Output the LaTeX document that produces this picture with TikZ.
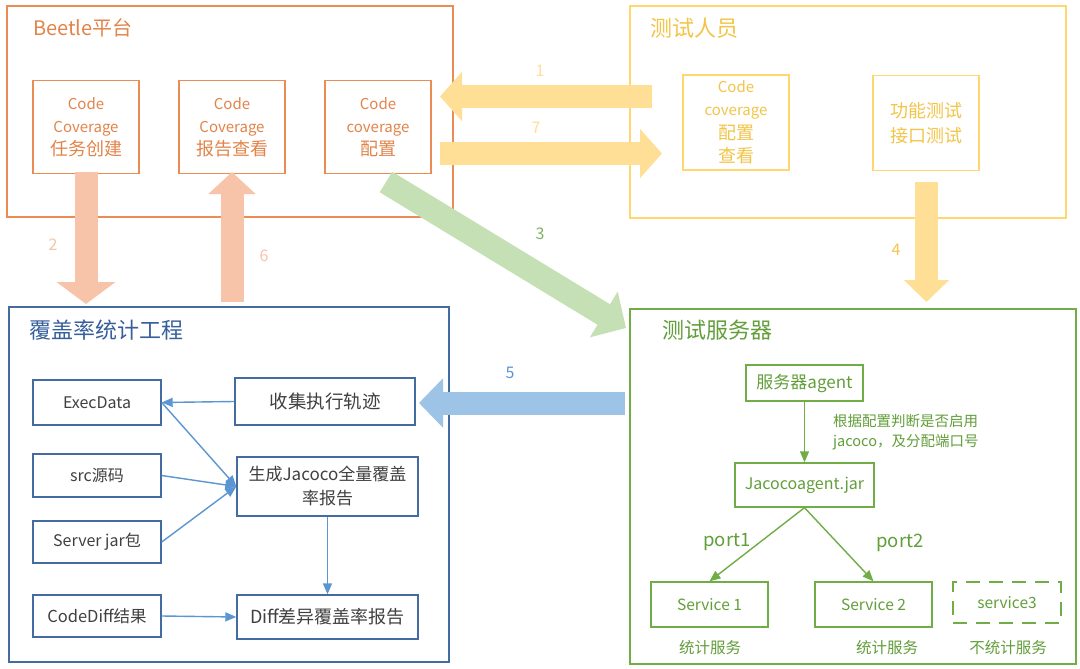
\documentclass[tikz,border=0pt]{standalone}
\usepackage{fontspec}
\setmainfont{Noto Sans CJK SC}
\usetikzlibrary{arrows.meta}
\definecolor{cOr}{RGB}{234,140,84}
\definecolor{cOrT}{RGB}{226,132,74}
\definecolor{cSal}{RGB}{247,196,170}
\definecolor{cYe}{RGB}{255,214,112}
\definecolor{cYeA}{RGB}{255,222,150}
\definecolor{cYeT}{RGB}{242,196,72}
\definecolor{cGr}{RGB}{112,173,71}
\definecolor{cGrA}{RGB}{197,224,180}
\definecolor{cGrT}{RGB}{98,158,58}
\definecolor{cBl}{RGB}{68,108,160}
\definecolor{cBlT}{RGB}{55,95,155}
\definecolor{cBlL}{RGB}{90,150,210}
\definecolor{cBlA}{RGB}{157,195,230}
\newcommand{\zhbig}[1]{{\fontsize{18}{23}\selectfont #1}}
\tikzset{
  outerbox/.style={draw, line width=2.6pt, inner sep=0pt},
  innerbox/.style={draw, line width=1.4pt, inner sep=0pt, align=center},
  ttl/.style={anchor=west, inner sep=0pt, font=\fontsize{22}{26}\selectfont},
  bodytxt/.style={font=\fontsize{15}{23}\selectfont},
  numlbl/.style={inner sep=0pt, font=\fontsize{16}{18}\selectfont},
  bigarrow/.style={line width=23pt, -{Triangle[length=22pt,width=48pt]}},
  thinblue/.style={draw=cBlL, line width=1.4pt, -{Triangle[length=11pt,width=9pt]}},
  thingreen/.style={draw=cGr, line width=1.4pt, -{Triangle[length=11pt,width=9pt]}},
}
\begin{document}
\begin{tikzpicture}[x=1pt,y=-1pt]
\useasboundingbox[fill=white] (0,0) rectangle (1080,669);

% ---------- Beetle platform ----------
\node[outerbox, draw=cOr, minimum width=446pt, minimum height=211pt] (beetle) at (230,111.5) {};
\node[ttl, text=cOrT, font=\fontsize{20}{24}\selectfont] (beetleT) at (33,28) {Beetle平台};
\begin{scope}[every node/.style={innerbox, draw=cOr, text=cOrT, bodytxt, minimum width=106pt, minimum height=93pt}]
\node (b1) at (86,127) {Code\\Coverage\\\zhbig{任务创建}};
\node (b2) at (232,127) {Code\\Coverage\\\zhbig{报告查看}};
\node (b3) at (378,127) {Code\\coverage\\\zhbig{配置}};
\end{scope}

% ---------- Testers ----------
\node[outerbox, draw=cYe, minimum width=436pt, minimum height=212pt] (tester) at (848,112) {};
\node[ttl, text=cYeT] (testerT) at (650,28) {测试人员};
\begin{scope}[every node/.style={innerbox, draw=cYe, text=cYeT, minimum width=106pt, minimum height=95pt}]
\node[font=\fontsize{15}{23.5}\selectfont] (t1) at (736,122.5) {Code\\coverage\\\zhbig{配置}\\\zhbig{查看}};
\node[font=\fontsize{18}{25}\selectfont] (t2) at (926,123) {功能测试\\接口测试};
\end{scope}

% ---------- Coverage project ----------
\node[outerbox, draw=cBl, minimum width=440pt, minimum height=355pt] (cov) at (229,484.5) {};
\node[ttl, text=cBlT] (covT) at (29,330) {覆盖率统计工程};
\begin{scope}[every node/.style={innerbox, draw=cBl, text=black!75, font=\fontsize{16}{25}\selectfont}]
\node[minimum width=128pt, minimum height=45pt] (exec) at (97,402.5) {ExecData};
\node[minimum width=128pt, minimum height=43pt] (src) at (97,475.5) {src源码};
\node[minimum width=128pt, minimum height=42pt] (jar) at (97,542) {Server jar包};
\node[minimum width=128pt, minimum height=42pt, font=\fontsize{16.5}{25}\selectfont] (cdiff) at (97,616) {CodeDiff结果};
\node[minimum width=180pt, minimum height=47pt, font=\fontsize{18.5}{25}\selectfont] (collect) at (325,401.5) {收集执行轨迹};
\node[minimum width=181pt, minimum height=59pt, font=\fontsize{17}{24}\selectfont] (gen) at (327.5,486.5) {生成Jacoco全量覆盖\\率报告};
\node[minimum width=181pt, minimum height=44pt, font=\fontsize{18}{25}\selectfont] (diff) at (327.5,617) {Diff差异覆盖率报告};
\end{scope}
\draw[thinblue] (collect.west) -- (exec.east);
\draw[thinblue] (exec.east) -- (gen.west);
\draw[thinblue] (src.east) -- (gen.west);
\draw[thinblue] (jar.east) -- (gen.west);
\draw[thinblue] (gen.south) -- (diff.north);
\draw[thinblue] (cdiff.east) -- (diff.west);

% ---------- Test server ----------
\node[outerbox, draw=cGr, minimum width=446pt, minimum height=355pt] (srv) at (853,486.5) {};
\node[ttl, text=cGrT] (srvT) at (662,330) {测试服务器};
\begin{scope}[every node/.style={innerbox, draw=cGr, text=cGrT, font=\fontsize{16}{20}\selectfont}]
\node[minimum width=117pt, minimum height=36pt, font=\fontsize{17}{20}\selectfont] (agent) at (804.5,383) {服务器agent};
\node[minimum width=139pt, minimum height=44pt] (jacoco) at (804.5,485) {Jacocoagent.jar};
\node[minimum width=117pt, minimum height=45pt, font=\fontsize{15.5}{20}\selectfont] (s1) at (709.5,604.5) {Service 1};
\node[minimum width=117pt, minimum height=45pt, font=\fontsize{15.5}{20}\selectfont] (s2) at (873.5,604.5) {Service 2};
\node[minimum width=108pt, minimum height=41pt, dashed, dash pattern=on 14pt off 9pt, font=\fontsize{15.5}{20}\selectfont] (s3) at (1007,602.5) {service3};
\end{scope}
\node[anchor=west, align=left, text=cGrT, inner sep=0pt, font=\fontsize{14.5}{20}\selectfont] (note) at (833,432) {根据配置判断是否启用\\jacoco，及分配端口号};
\draw[thingreen] (agent.south) -- (jacoco.north);
\draw[thingreen] (jacoco.south) -- (s1.north);
\draw[thingreen] (jacoco.south) -- (s2.north);
\node[text=cGrT, inner sep=0pt, font=\fontsize{18.5}{20}\selectfont] (p1) at (727,542) {port1};
\node[text=cGrT, inner sep=0pt, font=\fontsize{18.5}{20}\selectfont] (p2) at (900,543) {port2};
\begin{scope}[every node/.style={text=cGrT, inner sep=0pt, font=\fontsize{15.5}{16}\selectfont}]
\node (l1) at (710,648) {统计服务};
\node (l2) at (887,648) {统计服务};
\node (l3) at (1008,648) {不统计服务};
\end{scope}

% ---------- big flow arrows ----------
\coordinate (a1s) at (652,96.5);  \coordinate (a1e) at (440,96.5);
\coordinate (a7s) at (440,153.5); \coordinate (a7e) at (662,153.5);
\coordinate (a2s) at (86,172);    \coordinate (a2e) at (86,304);
\coordinate (a6s) at (232,302);   \coordinate (a6e) at (232,172);
\coordinate (a4s) at (926.5,182); \coordinate (a4e) at (926.5,302);
\coordinate (a3s) at (386,182);   \coordinate (a3e) at (626,328);
\coordinate (a5s) at (625,403);   \coordinate (a5e) at (419,403);
\draw[bigarrow, draw=cYeA, -{Triangle[length=22pt,width=48pt,color=cYeA]}] (a1s) -- (a1e);
\draw[bigarrow, draw=cYeA, -{Triangle[length=22pt,width=48pt,color=cYeA]}] (a7s) -- (a7e);
\draw[bigarrow, draw=cYeA, -{Triangle[length=22pt,width=44pt,color=cYeA]}] (a4s) -- (a4e);
\draw[bigarrow, draw=cSal, -{Triangle[length=22pt,width=58pt,color=cSal]}] (a2s) -- (a2e);
\draw[bigarrow, draw=cSal, -{Triangle[length=22pt,width=46pt,color=cSal]}] (a6s) -- (a6e);
\draw[bigarrow, draw=cGrA, line width=24pt, -{Triangle[length=26pt,width=52pt,color=cGrA]}] (a3s) -- (a3e);
\draw[bigarrow, draw=cBlA, -{Triangle[length=24pt,width=48pt,color=cBlA]}] (a5s) -- (a5e);

\node[numlbl, text=cYeA] (n1) at (540,71) {1};
\node[numlbl, text=cYeA] (n7) at (536,128) {7};
\node[numlbl, text=cSal] (n2) at (53,245) {2};
\node[numlbl, text=cSal] (n6) at (264,256) {6};
\node[numlbl, text=cGrT!80] (n3) at (540,234) {3};
\node[numlbl, text=cYeT] (n4) at (896,250) {4};
\node[numlbl, text=cBlL] (n5) at (510,373) {5};
\end{tikzpicture}
\end{document}
